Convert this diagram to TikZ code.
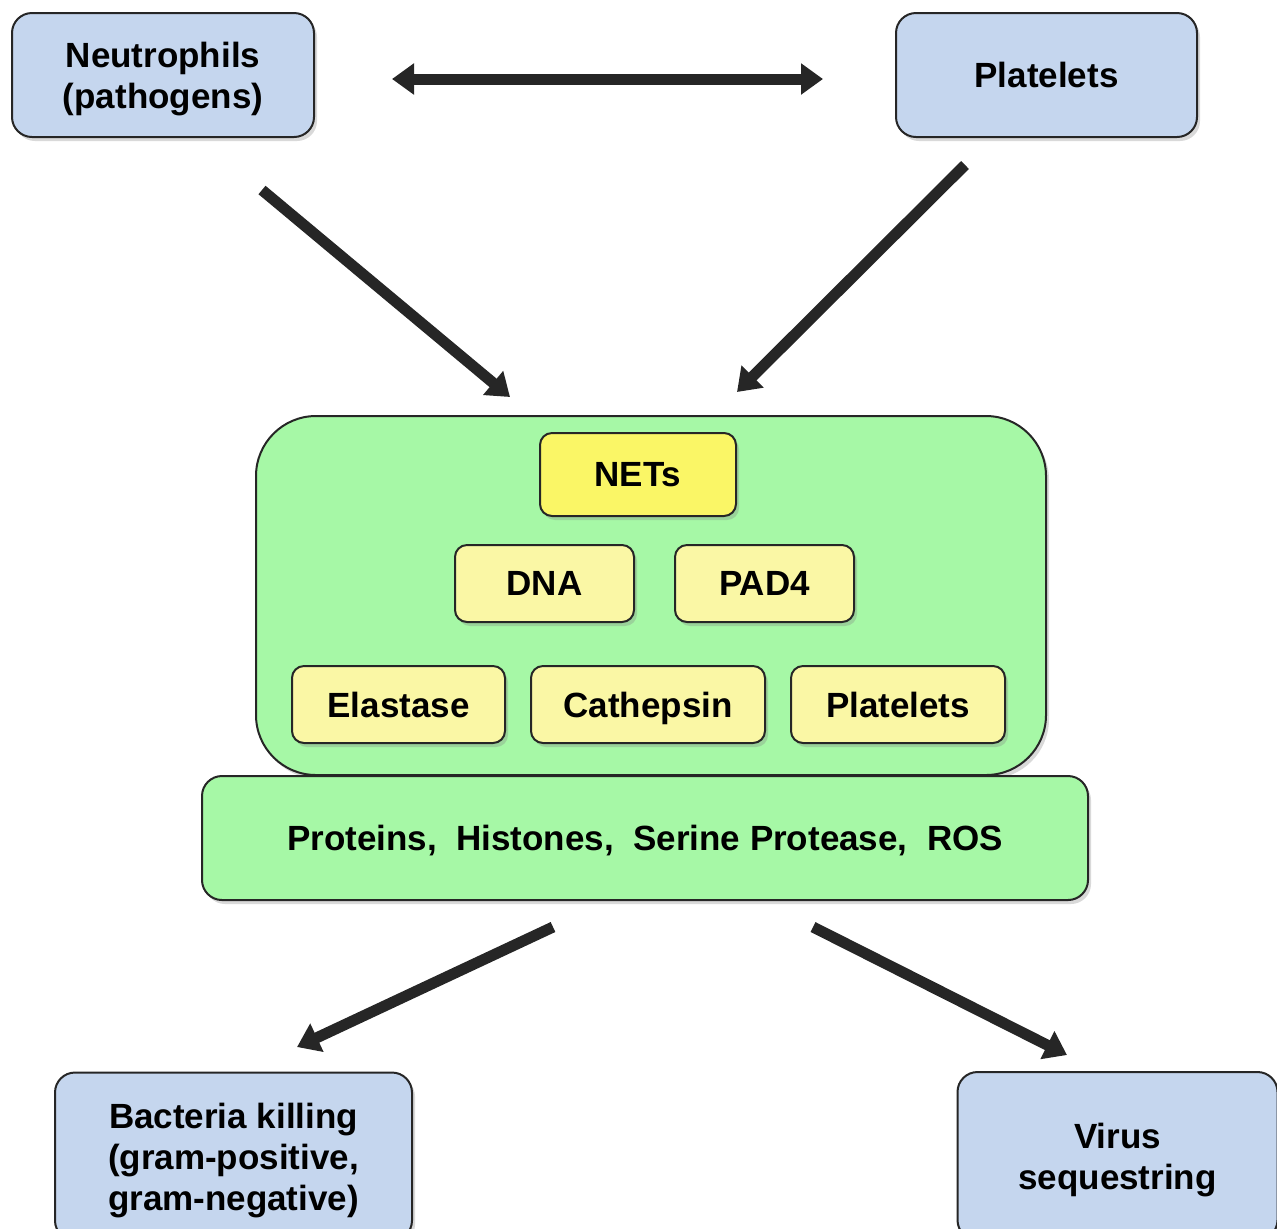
\documentclass[tikz,border=0pt]{standalone}
\usepackage{fontspec}
\setmainfont{Liberation Sans}
\usetikzlibrary{arrows.meta,shadows}

\definecolor{boxblue}{RGB}{197,214,238}
\definecolor{boxgreen}{RGB}{166,248,166}
\definecolor{netyellow}{RGB}{250,246,102}
\definecolor{paleyellow}{RGB}{250,247,165}

\tikzset{
  cell/.style={draw=black!85, line width=1pt, align=center, inner sep=0pt, text depth=0pt,
    font=\fontsize{17.5}{20.5}\selectfont\bfseries,
    drop shadow={shadow xshift=1.5pt, shadow yshift=-2pt, opacity=0.3}},
  bluebox/.style={cell, fill=boxblue, rounded corners=10pt},
  part/.style={cell, fill=paleyellow, rounded corners=6pt, minimum height=38.5pt},
  fatarrow/.style={line width=5.5pt, draw=black!85, -{Triangle[width=15pt,length=11pt]}},
}

\begin{document}
\begin{tikzpicture}[x=0.5pt,y=-0.5pt]
\useasboundingbox (0,0) rectangle (1277,1228);

% sources
\node[bluebox, minimum width=151pt, minimum height=62pt] (neu) at (163,75) {Neutrophils\\(pathogens)};
\node[bluebox, minimum width=150.5pt, minimum height=62pt] (plt) at (1046.5,75) {Platelets};

% NET container
\node[cell, fill=boxgreen, rounded corners=30pt, minimum width=395pt, minimum height=179.5pt] (box) at (651,595.5) {};
\node[cell, fill=boxgreen, rounded corners=10pt, minimum width=443pt, minimum height=62pt] (bar) at (645,838)
	{Proteins,\ \ Histones,\ \ Serine Protease,\ \ ROS};
\node[part, fill=netyellow, minimum width=98pt, minimum height=41.5pt] (nets) at (638,474.5) {NETs};
\node[part, minimum width=89.5pt] (dna) at (544.5,583.5) {DNA};
\node[part, minimum width=89.5pt] (pad) at (764.5,583.5) {PAD4};
\node[part, minimum width=106.5pt] (ela) at (398.5,704.5) {Elastase};
\node[part, minimum width=117pt] (cat) at (648,704.5) {Cathepsin};
\node[part, minimum width=107pt] (plt2) at (898,704.5) {Platelets};

% outcomes
\node[bluebox, minimum width=178.5pt, minimum height=84pt] (bac) at (233.5,1156.5)
	{Bacteria killing\\(gram-positive,\\gram-negative)};
\node[bluebox, minimum width=160pt, minimum height=84pt] (vir) at (1117.5,1156)
	{Virus\\sequestring};

% arrows
\coordinate (a1) at (262,190);  \coordinate (b1) at (510,397);
\coordinate (a2) at (965,165);  \coordinate (b2) at (737,392);
\coordinate (a3) at (553,927);  \coordinate (b3) at (297,1047);
\coordinate (a4) at (813,927);  \coordinate (b4) at (1067,1055);
\coordinate (l) at (392,79);    \coordinate (r) at (823,79);
\draw[fatarrow, {Triangle[width=15pt,length=11pt]}-{Triangle[width=15pt,length=11pt]}] (l) -- (r);
\foreach \s/\t in {a1/b1, a2/b2, a3/b3, a4/b4}
	\draw[fatarrow] (\s) -- (\t);
\end{tikzpicture}
\end{document}
